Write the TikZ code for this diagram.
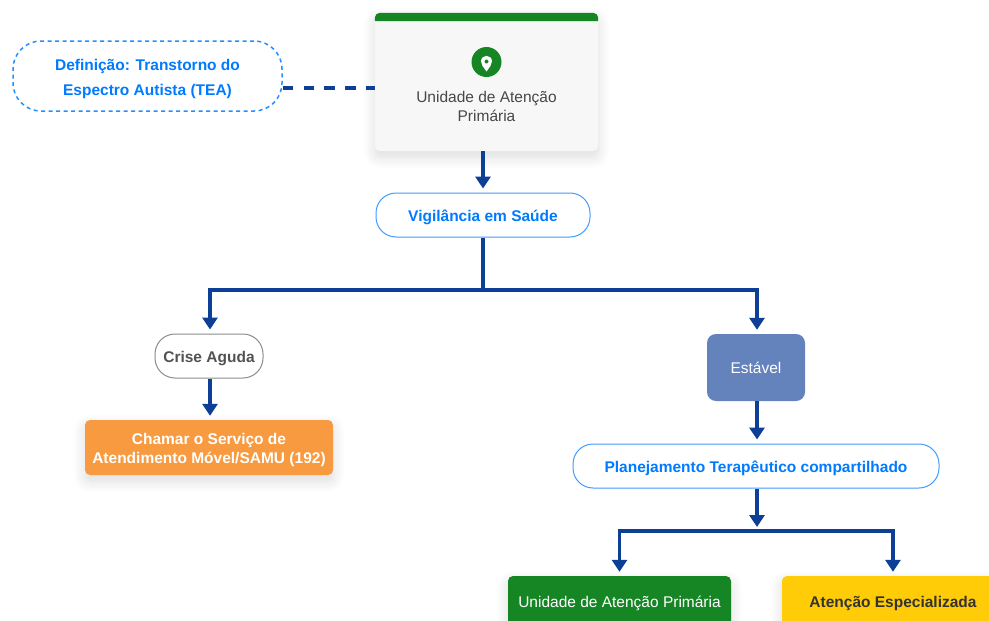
\documentclass[tikz,border=0pt]{standalone}
\usepackage{fontspec}
\setmainfont{Liberation Sans}
\usetikzlibrary{arrows.meta,shadows.blur}
\definecolor{linkblue}{HTML}{0E3F96}
\definecolor{textblue}{HTML}{007BFF}
\definecolor{cardgreen}{HTML}{168524}
\definecolor{stablefill}{HTML}{6482BC}
\definecolor{alertfill}{HTML}{F79A40}
\definecolor{specfill}{HTML}{FFCC07}
\newcommand{\lowline}[1]{\raisebox{-2pt}[12pt][3pt]{#1}}
\tikzset{
  pill/.style={draw=textblue!75,fill=white,line width=1pt,rounded corners=20pt,text=textblue,
    text height=14pt,text depth=2pt,font=\fontsize{15.5}{25}\selectfont\bfseries,align=center},
  boxnode/.style={rounded corners=5pt,inner sep=0pt,align=center,font=\fontsize{15.5}{19}\selectfont},
  softshadow/.style={blur shadow={shadow blur steps=10,shadow xshift=0pt,shadow yshift=-6pt,shadow blur radius=12pt,shadow opacity=14}},
  flow/.style={draw=linkblue,line width=3.5pt,shorten >=4pt,-{Triangle[width=15pt,length=12pt]}},
  trunk/.style={draw=linkblue,line width=3.5pt},
}
\begin{document}
\begin{tikzpicture}[x=1pt,y=-1pt]
\useasboundingbox (0,0) rectangle (989,621);
\clip (0,0) rectangle (989,621);
% nodes
\node [pill,draw=textblue!85,text height=,text depth=,dashed,dash pattern=on 4pt off 3.5pt,line width=1.5pt,rounded corners=28pt,minimum width=269pt,minimum height=70pt](def) at (147.5,76) {\lowline{Definição: Transtorno do}\\\lowline{Espectro Autista (TEA)}};
\node [boxnode,softshadow,fill=black!3,minimum width=223pt,minimum height=138pt](uap) at (486.5,82) {};
\node [pill,minimum width=214pt,minimum height=44pt](vig) at (483,215) {Vigilância em Saúde};
\node [pill,draw=black!45,text=black!68,minimum width=108pt,minimum height=44pt](crise) at (209,356) {Crise Aguda};
\node [boxnode,softshadow,fill=alertfill,text=white,font=\fontsize{15.5}{19}\selectfont\bfseries,minimum width=248pt,minimum height=55pt](samu) at (209,447.5) {\lowline{Chamar o Serviço de}\\\lowline{Atendimento Móvel/SAMU (192)}};
\node [boxnode,rounded corners=9pt,fill=stablefill,text=white,text height=14pt,text depth=2pt,minimum width=98pt,minimum height=67pt](estavel) at (756,367.5) {Estável};
\node [pill,minimum width=366pt,minimum height=44pt](plano) at (756,466) {Planejamento Terapêutico compartilhado};
\node [boxnode,softshadow,fill=cardgreen,text=white,minimum width=223pt,minimum height=50pt,text height=14pt,text depth=2pt](ubs) at (619.5,601) {Unidade de Atenção Primária};
\node [boxnode,softshadow,fill=specfill,text=black!80,font=\fontsize{15.5}{19}\selectfont\bfseries,minimum width=222pt,minimum height=50pt,text height=14pt,text depth=2pt](spec) at (893,601) {Atenção Especializada};
% card top, pin and label
\fill [cardgreen] (uap.west |- 0,21) [rounded corners=5pt] -- (uap.north west) -- (uap.north east) [sharp corners] -- (uap.east |- 0,21) -- cycle;
\node [circle,fill=cardgreen,minimum size=30pt,inner sep=0pt](pinbase) at (486.5,62) {};
\fill [white] (486.5,71.5) .. controls (483.5,67) and (481,65) .. (481,61.5) .. controls (481,54) and (492,54) .. (492,61.5) .. controls (492,65) and (489.5,67) .. (486.5,71.5) -- cycle;
\fill [cardgreen] (486.5,61.5) circle (2pt);
\node [align=center,text=black!72,font=\fontsize{15.5}{19}\selectfont](uaptext) at (486.5,106.5) {Unidade de Atenção\\Primária};
% junctions
\coordinate (fork1) at (483,290);
\coordinate (fork2) at (757,531);
\coordinate (gate) at (330,88);
\coordinate (col1) at (210,0);
% connectors
\draw [trunk,line width=4pt,dash pattern=on 10.4pt off 10.4pt] (def.east |- gate) -- (uap.west |- gate);
\draw [flow] (vig |- uap.south) -- (vig.north);
\draw [trunk] (vig.south) -- (fork1);
\draw [flow] (fork1) -| (crise.north -| col1);
\draw [flow] (fork1) -| (estavel.north -| fork2);
\draw [flow] (crise.south -| col1) -- (samu.north -| col1);
\draw [flow] (estavel.south -| fork2) -- (plano.north -| fork2);
\draw [flow] (plano.south -| fork2) -- (fork2);
\draw [flow] (fork2) -| (ubs.north);
\draw [flow] (fork2) -| (spec.north);
\end{tikzpicture}
\end{document}
